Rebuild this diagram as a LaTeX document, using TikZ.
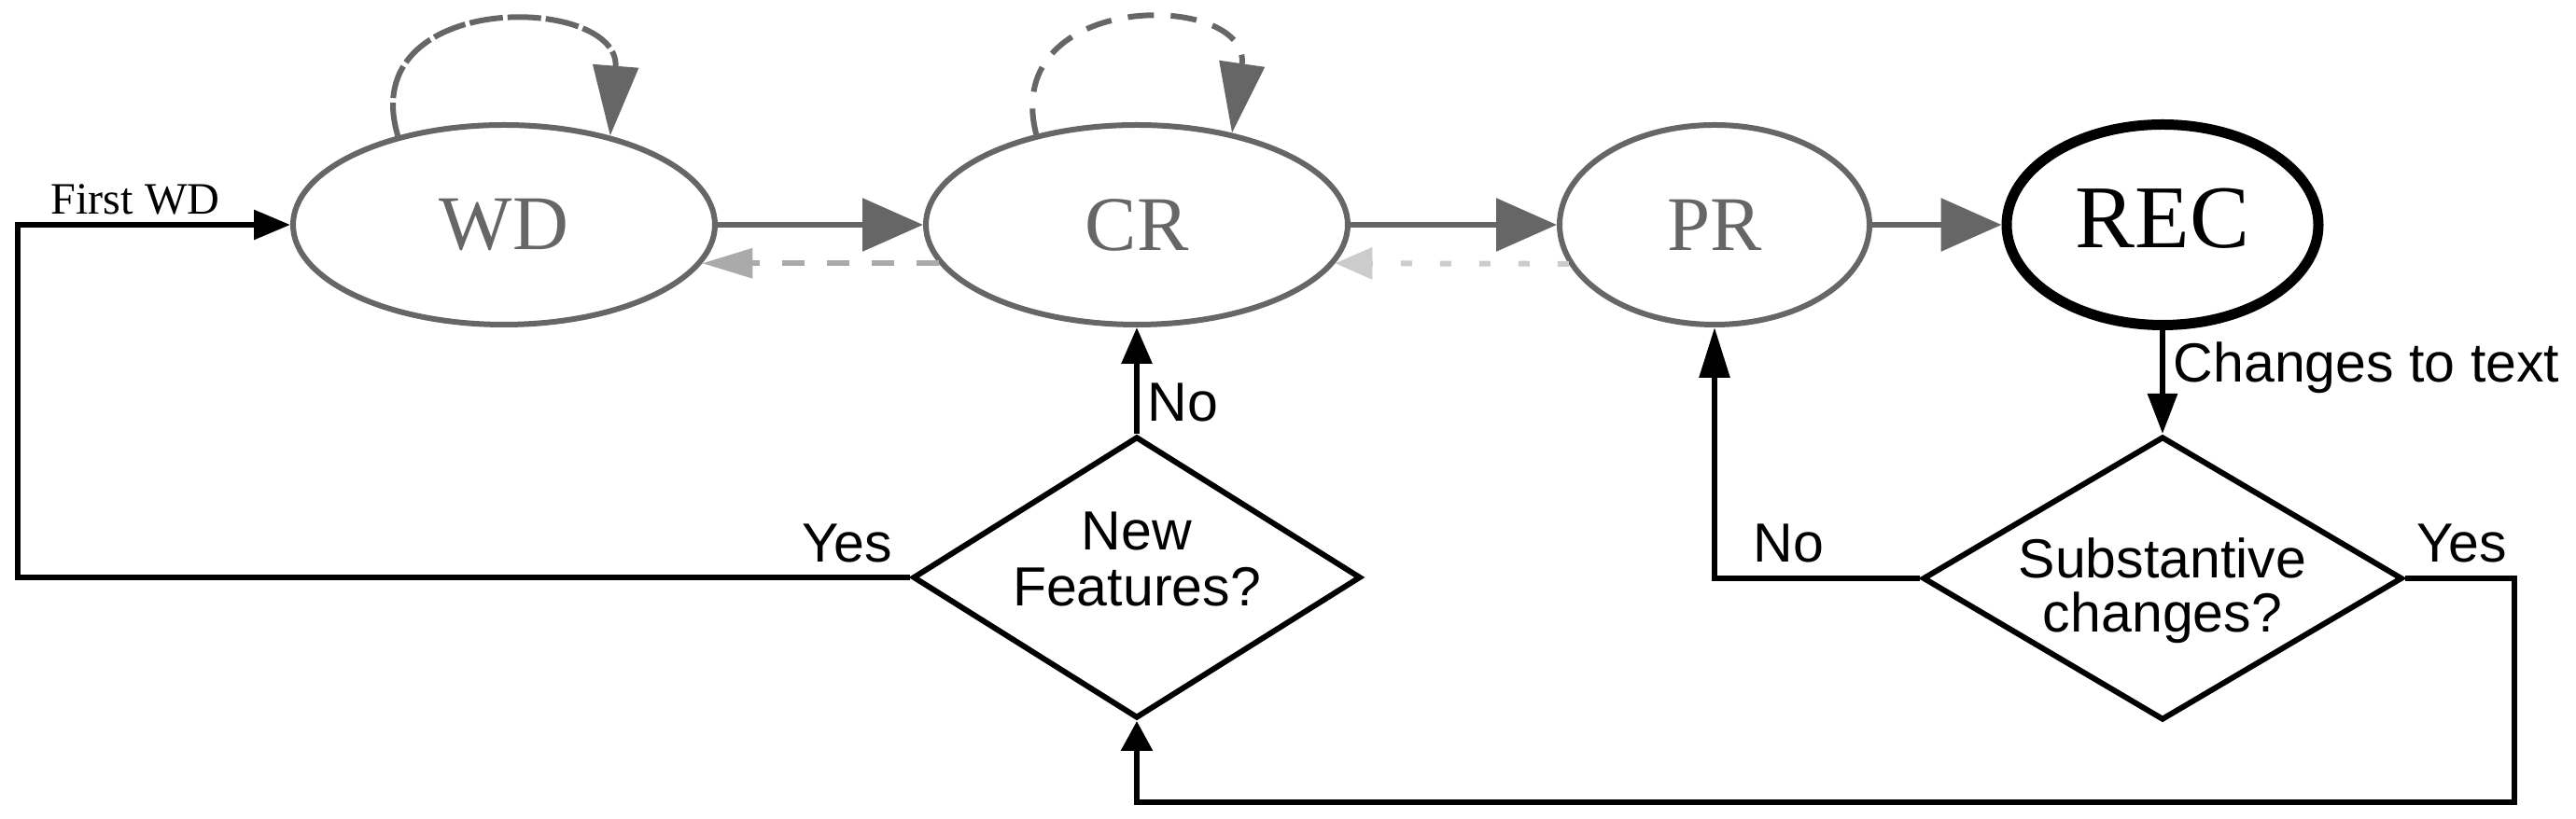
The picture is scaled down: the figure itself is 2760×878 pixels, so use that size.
\documentclass[tikz,border=0pt]{standalone}
\usepackage{fontspec}
\setmainfont{Liberation Serif}
\newfontfamily\lsans{Liberation Sans}
\usetikzlibrary{arrows.meta,shapes.geometric}
\definecolor{stategray}{HTML}{666666}
\definecolor{backgray}{HTML}{AAAAAA}
\definecolor{dotgray}{HTML}{CCCCCC}
\tikzset{
  state/.style={ellipse, draw=stategray, line width=0.6mm, text=stategray, inner sep=0pt,
    font=\fontsize{23.6pt}{23.6pt}\selectfont},
  widestate/.style={state, minimum width=45.2mm, minimum height=21.4mm},
  narrowstate/.style={state, minimum width=33.2mm, minimum height=21.4mm},
  finalstate/.style={ellipse, draw=black, line width=1.1mm, text=black, inner sep=0pt,
    minimum width=33.4mm, minimum height=21.5mm, text depth=1.4mm,
    font=\fontsize{27.3pt}{27.3pt}\selectfont},
  decision/.style={diamond, draw=black, line width=0.6mm, inner sep=0pt},
  fwd/.style={color=stategray, line width=0.6mm, -{Triangle[length=6.5mm,width=5.6mm]}},
  backdash/.style={color=backgray, line width=0.6mm, dash pattern=on 2.4mm off 2.4mm,
    -{Triangle[length=5.4mm,width=3.1mm]}},
  backdot/.style={color=dotgray, line width=0.6mm, dash pattern=on 1.2mm off 3mm,
    -{Triangle[length=4mm,width=3.3mm]}},
  selfloopA/.style={color=stategray, line width=0.6mm, dash pattern=on 3.6mm off 0.5mm,
    -{Triangle[length=7.5mm,width=4.8mm]}},
  selfloopB/.style={color=stategray, line width=0.6mm, dash pattern=on 2.8mm off 1.8mm,
    -{Triangle[length=7.5mm,width=4.8mm]}},
  flow/.style={draw=black, line width=0.6mm},
  tag/.style={font=\lsans\fontsize{16.8pt}{16.8pt}\selectfont, inner sep=0pt},
  serifsmall/.style={font=\fontsize{13.7pt}{13.7pt}\selectfont, inner sep=0pt}
}
\begin{document}
\begin{tikzpicture}[x=0.1mm,y=-0.1mm]
\fill[white] (0,0) rectangle (2760,878);
\useasboundingbox (0,0) rectangle (2760,878);

% states
\node[widestate] (WD) at (540,241) {WD};
\node[widestate] (CR) at (1218,241) {CR};
\node[narrowstate] (PR) at (1837,241) {PR};
\node[finalstate] (REC) at (2317,241) {REC};

% decisions
\node[decision, minimum width=48mm, minimum height=30.2mm] (nf) at (1218,619) {};
\node[decision, minimum width=51.4mm, minimum height=30.4mm] (sc) at (2317,620) {};
\node[tag, anchor=base] at (1218,590) {New};
\node[tag, anchor=base] at (1218,650) {Features?};
\node[tag, anchor=base] at (2317,620) {Substantive};
\node[tag, anchor=base] at (2317,678) {changes?};

% forward arrows
\draw[fwd] (WD.east) -- (CR.west);
\draw[fwd] (CR.east) -- (PR.west);
\draw[fwd] (PR.east) -- (REC.west);

% backward arrows
\draw[backdash] (CR.191) -- (WD.349);
\draw[backdot] (PR.195) -- (CR.349);

% self loops
\draw[selfloopA] (WD.140) .. controls +(-47,-158) and +(12,-152) .. (WD.40);
\draw[selfloopB] (CR.138) .. controls +(-40,-157) and +(22,-152) .. (CR.44);

% flow chart connectors
\coordinate (tl) at (19,241);
\coordinate (br) at (2694,860);
\draw[flow, -{Triangle[length=3.9mm,width=3.1mm]}] (nf.west) -| (tl) -- (WD.west);
\draw[flow, -{Triangle[length=3.9mm,width=3.2mm]}] (nf.north) -- (CR.south);
\draw[flow, -{Triangle[length=4.3mm,width=3.1mm]}] (REC.south) -- (sc.north);
\draw[flow, -{Triangle[length=5.4mm,width=3.2mm]}] (sc.west) -| (PR.south);
\draw[flow, -{Triangle[length=3.2mm,width=3.3mm]}] (sc.east) -| (br) -| (nf.south);

% labels
\node[serifsmall, anchor=base west] at (54,230) {First WD};
\node[tag, anchor=base east] at (957,603) {Yes};
\node[tag, anchor=base west] at (1229,452) {No};
\node[tag, anchor=base west] at (2328,410) {Changes to text};
\node[tag, anchor=base west] at (1878,603) {No};
\node[tag, anchor=base west] at (2589,603) {Yes};
\end{tikzpicture}
\end{document}
